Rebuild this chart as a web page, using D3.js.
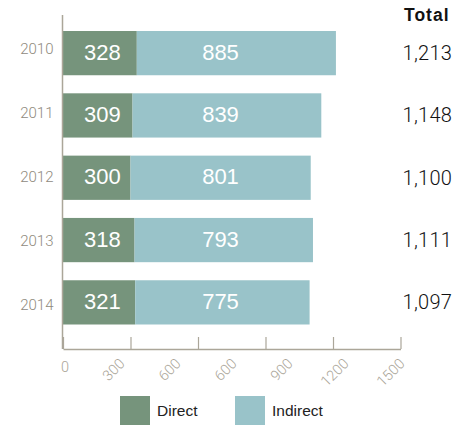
<!DOCTYPE html>
<html>
<head>
<meta charset="utf-8">
<script src="https://cdn.jsdelivr.net/npm/d3@7"></script>
<style>
  html, body { margin: 0; padding: 0; background: #fff; }
  svg { display: block; font-family: "Liberation Sans", Arial, Helvetica, sans-serif; }
</style>
</head>
<body>
<svg id="chart" width="462" height="425"></svg>
<script>
const years = ["2010", "2011", "2012", "2013", "2014"];
const direct = [328, 309, 300, 318, 321];
const indirect = [885, 839, 801, 793, 775];
const totals = ["1,213", "1,148", "1,100", "1,111", "1,097"];
const tickValues = [0, 300, 600, 900, 1200, 1500];
const tickLabels = ["0", "300", "600", "600", "900", "1200", "1500"];
const seriesNames = ["Direct", "Indirect"];
const colors = ["#76947c", "#99c3c9"];
const directLabelAt = 175;
const indirectLabelAt = 700;

const svg = d3.select("#chart");

const x = d3.scaleLinear().domain([0, 1500]).range([63, 400.5]);
const y = d3.scaleBand().domain(years).range([31, 324.5]).paddingInner(0.29).paddingOuter(0);
const yLab = d3.scalePoint().domain(years).range([48.3, 305]);
const xLab = d3.scalePoint().domain(d3.range(tickLabels.length)).range([66, 402]);

const axisColor = "#aba699";
const lightFont = "Roboto, 'Liberation Sans', Arial, sans-serif";

const rows = years.map((yr, i) => ({ yr, d: direct[i], ind: indirect[i], tot: totals[i] }));

svg.append("g").selectAll("rect").data(rows).join("rect")
  .attr("x", x(0)).attr("y", r => y(r.yr))
  .attr("width", r => x(r.d) - x(0)).attr("height", y.bandwidth())
  .attr("fill", colors[0]);

svg.append("g").selectAll("rect").data(rows).join("rect")
  .attr("x", r => x(r.d)).attr("y", r => y(r.yr))
  .attr("width", r => x(r.d + r.ind) - x(r.d)).attr("height", y.bandwidth())
  .attr("fill", colors[1]);

// in-bar labels
svg.append("g").selectAll("text").data(rows).join("text")
  .attr("x", x(directLabelAt)).attr("y", r => y(r.yr) + y.bandwidth() / 2 - 1)
  .attr("dy", "0.35em").attr("text-anchor", "middle")
  .attr("fill", "#fff").attr("font-size", 22)
  .text(r => r.d);

svg.append("g").selectAll("text").data(rows).join("text")
  .attr("x", x(indirectLabelAt)).attr("y", r => y(r.yr) + y.bandwidth() / 2 - 1)
  .attr("dy", "0.35em").attr("text-anchor", "middle")
  .attr("fill", "#fff").attr("font-size", 22)
  .text(r => r.ind);

// totals
svg.append("text").attr("x", 404).attr("y", 15).attr("dy", "0.35em")
  .attr("font-size", 17.5).attr("font-weight", "bold").attr("letter-spacing", 1)
  .attr("fill", "#111").text("Total");

svg.append("g").selectAll("text").data(rows).join("text")
  .attr("x", 402.5).attr("y", r => y(r.yr) + y.bandwidth() / 2)
  .attr("dy", "0.35em").attr("font-size", 20).attr("letter-spacing", 0.3)
  .attr("font-family", lightFont).attr("font-weight", 300)
  .attr("fill", "#111").text(r => r.tot);

// year labels
svg.append("g").selectAll("text").data(years).join("text")
  .attr("x", 53.5).attr("y", d => yLab(d)).attr("dy", "0.35em")
  .attr("text-anchor", "end").attr("font-size", 15)
  .attr("font-family", lightFont).attr("font-weight", 300)
  .attr("fill", "#8f8a7d").text(d => d);

// y axis line
svg.append("line").attr("x1", 62.5).attr("x2", 62.5).attr("y1", 15).attr("y2", 349)
  .attr("stroke", axisColor).attr("stroke-width", 1.5);

// x axis
const xAxis = d3.axisBottom(x).tickValues(tickValues).tickSizeInner(-12).tickSizeOuter(0).tickFormat("");
const gx = svg.append("g").attr("transform", "translate(0,349)").call(xAxis);
gx.select(".domain").attr("stroke", axisColor).attr("stroke-width", 1.5);
gx.selectAll(".tick line").attr("stroke", axisColor).attr("stroke-width", 1.2);

// tick labels
svg.append("g").selectAll("text").data(tickLabels).join("text")
  .attr("transform", (d, i) => i === 0
    ? `translate(65,367)`
    : `translate(${xLab(i)},361) rotate(-45)`)
  .attr("text-anchor", (d, i) => i === 0 ? "middle" : "end")
  .attr("dy", "0.35em").attr("font-size", 14.5)
  .attr("font-family", lightFont).attr("font-weight", 300)
  .attr("fill", "#aaa598").text(d => d);

// legend
const legX = [120, 235];
const lg = svg.append("g").selectAll("g").data(seriesNames).join("g")
  .attr("transform", (d, i) => `translate(${legX[i]},396)`);
lg.append("rect").attr("width", 30).attr("height", 29).attr("fill", (d, i) => colors[i]);
lg.append("text").attr("x", 37).attr("y", 15).attr("dy", "0.35em")
  .attr("font-size", 15.5).attr("fill", "#222").text(d => d);
</script>
</body>
</html>
